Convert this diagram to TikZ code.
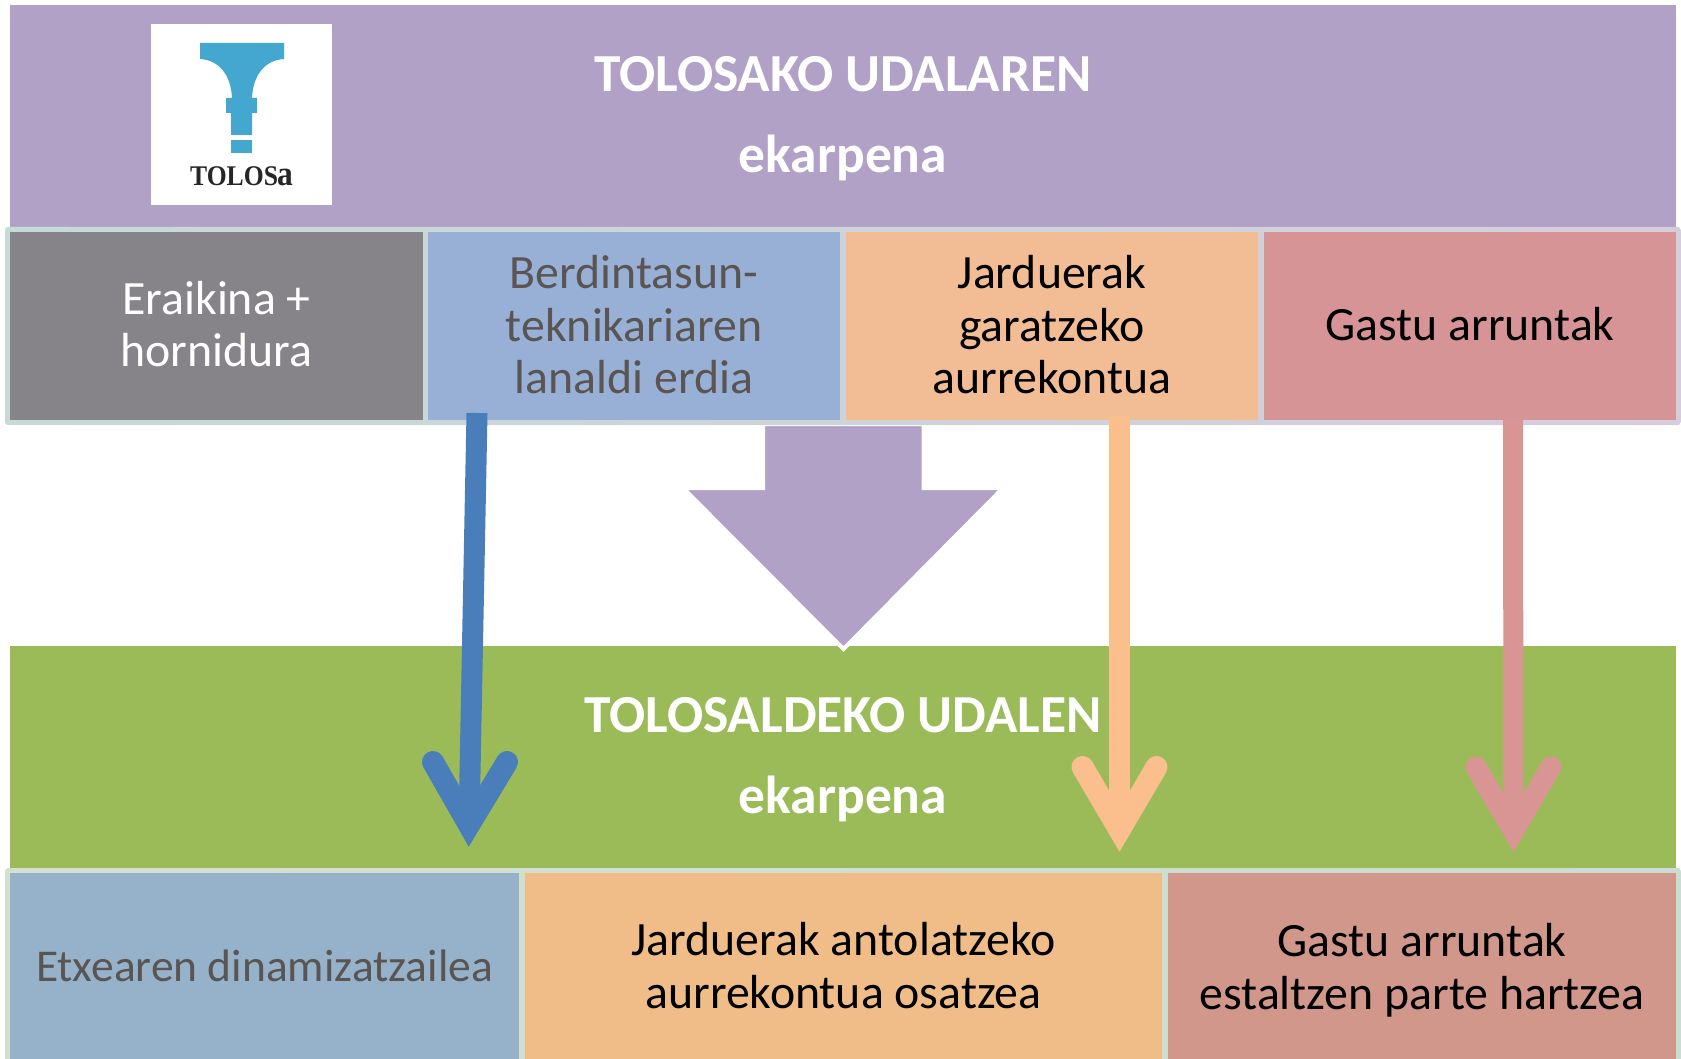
\documentclass[tikz,border=0pt]{standalone}
\usepackage{fontspec}
\setmainfont{Carlito}
\newfontfamily\logofont{Liberation Serif}
\definecolor{cPurple}{HTML}{B1A1C6}
\definecolor{cGreen}{HTML}{9BBB59}
\definecolor{cPaleL}{HTML}{C6DAD6}
\definecolor{cPaleR}{HTML}{D5CDDC}
\definecolor{cPaleBL}{HTML}{D3E0CF}
\definecolor{cPaleBR}{HTML}{CBDDD2}
\definecolor{cGray}{HTML}{868489}
\definecolor{cBlue}{HTML}{98B0D6}
\definecolor{cOrange}{HTML}{F2BD95}
\definecolor{cRose}{HTML}{D79497}
\definecolor{cBlueB}{HTML}{95B2CA}
\definecolor{cOrangeB}{HTML}{F0BD88}
\definecolor{cRoseB}{HTML}{D0978A}
\definecolor{cArrBlue}{HTML}{4A7EBB}
\definecolor{cArrOrange}{HTML}{FBBF8D}
\definecolor{cArrRose}{HTML}{D99594}
\definecolor{cLogo}{HTML}{43A7CF}
\definecolor{cDark}{HTML}{5A5553}
\tikzset{
  band/.style={fill=#1,draw=none,inner sep=0pt,outer sep=0pt,anchor=north west},
  tablebg/.style 2 args={left color=#1,right color=#2,draw=none,rounded corners=3pt,inner sep=0pt,outer sep=0pt,anchor=north west,minimum width=1676pt},
  cell/.style={fill=#1,draw=none,inner sep=0pt,outer sep=0pt},
  celltext/.style={inner sep=0pt,align=center,font=\fontsize{47.8}{52.5}\selectfont},
  titleline/.style={text=white,inner sep=0pt,anchor=base,font=\bfseries\fontsize{53.5}{60}\selectfont},
  flow/.style={draw=#1,line width=21pt},
  flowhead/.style={draw=#1,line width=22pt,line cap=round,line join=miter,miter limit=10},
}
\begin{document}
\begin{tikzpicture}[x=1pt,y=-1pt]
\useasboundingbox (0,0) rectangle (1681,1059);
\clip (0,0) rectangle (1681,1059);
\fill[white] (0,0) rectangle (1681,1059);
% bands
\node[band=cPurple,minimum width=1666pt,minimum height=223pt] (top) at (10,5) {};
\node[band=cGreen,minimum width=1666pt,minimum height=223pt] (mid) at (10,646) {};
\node[titleline] (t1) at (843,92) {TOLOSAKO UDALAREN};
\node[titleline] (t2) at (843,173) {ekarpena};
\node[titleline] (t3) at (843,732) {TOLOSALDEKO UDALEN};
\node[titleline] (t4) at (843,813) {ekarpena};
% big arrow
\fill[cPurple,draw=white,line width=4pt,miter limit=10]
  (763,424) -- (923.5,424) -- (923.5,488) -- (1003,488) -- (843.5,649) -- (683,488) -- (763,488) -- cycle;
% logo
\node[fill=white,inner sep=0pt,minimum size=181pt,anchor=north west] (logo) at (151,24) {};
\fill[cLogo] (200,43) -- (284,43) -- (284,59) .. controls (265,60) and (253,75) .. (252,98)
  -- (257,98) -- (257,113) -- (252,113) -- (252,135) -- (231,135) -- (231,113) -- (226,113) -- (226,98) -- (232,98)
  .. controls (231,75) and (219,60) .. (200,59) -- cycle;
\fill[cLogo] (231,140) rectangle (252,153);
\node[inner sep=0pt,anchor=base,text=black!85,font=\logofont\bfseries\fontsize{28.5}{31}\selectfont] (logotext) at (241.5,186) {\scalebox{0.9}[1]{TOLOS\kern-1pt{\fontsize{35}{37}\selectfont a}}};
% top table
\node[tablebg={cPaleL}{cPaleR},minimum height=198pt] (tabA) at (5,227) {};
\node[cell=cGray,minimum width=413pt,minimum height=188pt] (a1) at (216.5,326) {};
\node[cell=cBlue,minimum width=412pt,minimum height=188pt] (a2) at (634,326) {};
\node[cell=cOrange,minimum width=412pt,minimum height=188pt] (a3) at (1052,326) {};
\node[cell=cRose,minimum width=412pt,minimum height=188pt] (a4) at (1470,326) {};
\node[celltext,text=white] (a1t) at ([yshift=2pt]a1.center) {Eraikina +\\hornidura};
\node[celltext,text=cDark] (a2t) at ([yshift=1pt]a2.center) {Berdintasun-\\teknikariaren\\lanaldi erdia};
\node[celltext,text=black] (a3t) at ([yshift=1pt]a3.center) {Jarduerak\\garatzeko\\aurrekontua};
\node[celltext,text=black] (a4t) at ([yshift=2pt]a4.center) {Gastu arruntak};
% bottom table
\node[tablebg={cPaleBL}{cPaleBR},minimum height=200pt] (tabB) at (5,868) {};
\node[cell=cBlueB,minimum width=509pt,minimum height=198pt] (b1) at (264.5,972) {};
\node[cell=cOrangeB,minimum width=637pt,minimum height=198pt] (b2) at (843.5,972) {};
\node[cell=cRoseB,minimum width=508pt,minimum height=198pt] (b3) at (1422,972) {};
\node[celltext,text=cDark,font=\fontsize{45.5}{52.5}\selectfont] (b1t) at ([yshift=6.5pt]b1.center) {Etxearen dinamizatzailea};
\node[celltext,text=black] (b2t) at ([yshift=6.5pt]b2.center) {Jarduerak antolatzeko\\aurrekontua osatzea};
\node[celltext,text=black] (b3t) at ([yshift=2pt]b3.center) {Gastu arruntak\\estaltzen parte hartzea};
% arrows
\coordinate (s1) at (477,413); \coordinate (e1) at (469,825);
\coordinate (s2) at (1119.5,416); \coordinate (e2) at (1119.5,830);
\coordinate (s3) at (1513,420); \coordinate (e3) at (1513.5,831);
\draw[flow=cArrBlue] (s1) -- (e1);
\draw[flowhead=cArrBlue] (433,762) -- (e1) -- (507,762);
\draw[flow=cArrOrange] (s2) -- (e2);
\draw[flowhead=cArrOrange] (1082.5,767) -- (e2) -- (1156.5,767);
\draw[flow=cArrRose,line width=20pt] (s3) -- (e3);
\draw[flowhead=cArrRose,line width=21pt] (1476,767) -- (e3) -- (1551,767);
\end{tikzpicture}
\end{document}
